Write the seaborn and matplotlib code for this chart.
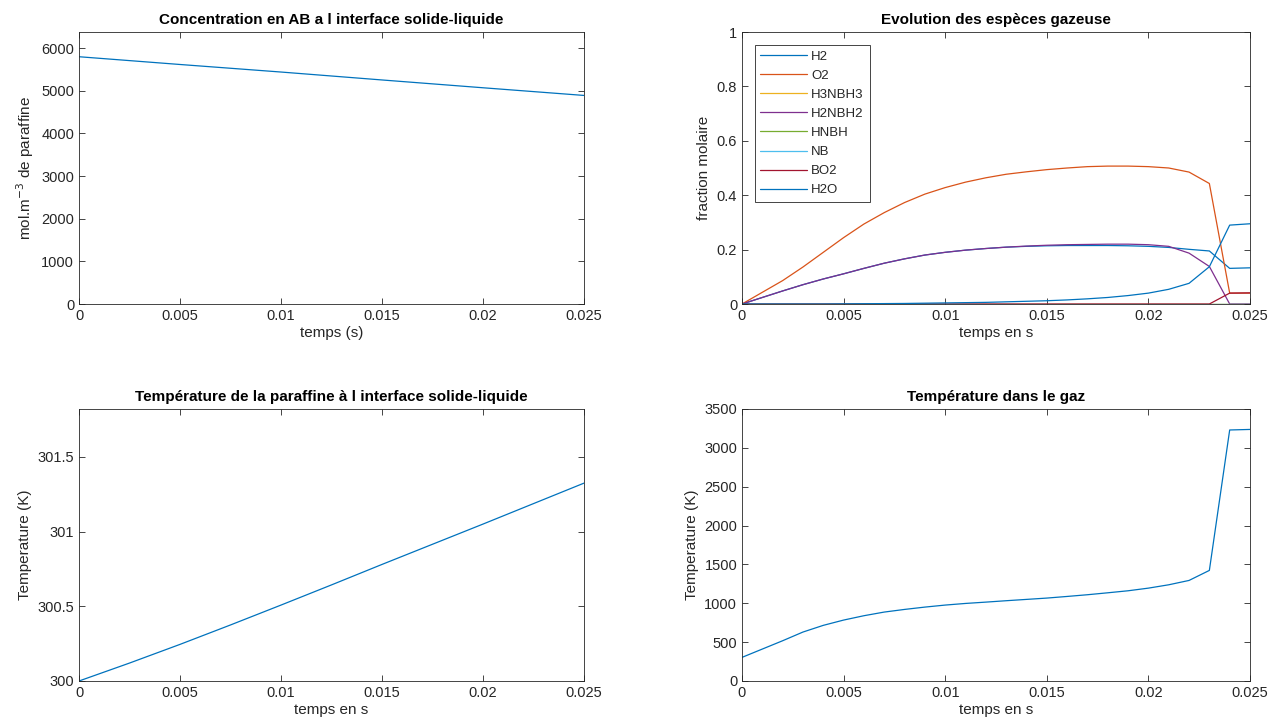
import numpy as np
import seaborn as sns
import matplotlib.pyplot as plt
from matplotlib.ticker import FuncFormatter

# temps (s)
t = [0.000, 0.001, 0.002, 0.003, 0.004, 0.005, 0.006, 0.007, 0.008, 0.009,
     0.010, 0.011, 0.012, 0.013, 0.014, 0.015, 0.016, 0.017, 0.018, 0.019,
     0.020, 0.021, 0.022, 0.023, 0.024, 0.025]

# concentration AB (interface)
t_conc = [0.0, 0.005, 0.01, 0.015, 0.02, 0.025]
conc_ab = [5800, 5618, 5441, 5255, 5072, 4892]

# fractions molaires gaz
h2 = [0.0, 0.024, 0.048, 0.071, 0.092, 0.111, 0.131, 0.150, 0.166, 0.180,
      0.190, 0.198, 0.204, 0.209, 0.212, 0.214, 0.215, 0.215, 0.215, 0.214,
      0.212, 0.208, 0.201, 0.195, 0.131, 0.133]
o2 = [0.0, 0.043, 0.086, 0.136, 0.190, 0.244, 0.294, 0.336, 0.373, 0.404,
      0.428, 0.448, 0.464, 0.477, 0.486, 0.494, 0.500, 0.505, 0.507, 0.507,
      0.505, 0.500, 0.485, 0.443, 0.040, 0.040]
h3nbh3 = [0, 0, 0, 0, 0, 0, 0, 0, 0, 0, 0, 0, 0,
          0, 0, 0, 0, 0, 0, 0, 0, 0, 0, 0, 0, 0]
h2nbh2 = [0.0, 0.024, 0.048, 0.071, 0.092, 0.111, 0.131, 0.150, 0.166, 0.180,
          0.190, 0.198, 0.204, 0.209, 0.213, 0.216, 0.218, 0.219, 0.220, 0.220,
          0.218, 0.212, 0.187, 0.138, 0.0, 0.0]
hnbh = [0, 0, 0, 0, 0, 0, 0, 0, 0, 0, 0, 0, 0,
        0, 0, 0, 0, 0, 0, 0, 0, 0, 0, 0, 0, 0]
nb = [0, 0, 0, 0, 0, 0, 0, 0, 0, 0, 0, 0, 0,
      0, 0, 0, 0, 0, 0, 0, 0, 0, 0, 0, 0, 0]
bo2 = [0, 0, 0, 0, 0, 0, 0, 0, 0, 0, 0, 0, 0,
       0, 0, 0, 0, 0, 0, 0, 0, 0, 0, 0, 0.040, 0.041]
h2o = [0.0, 0.0, 0.0, 0.0, 0.0, 0.0005, 0.001, 0.0015, 0.002, 0.003,
       0.004, 0.005, 0.006, 0.008, 0.010, 0.012, 0.015, 0.019, 0.024, 0.031,
       0.040, 0.054, 0.076, 0.137, 0.290, 0.295]
especes = ['H2', 'O2', 'H3NBH3', 'H2NBH2', 'HNBH', 'NB', 'BO2', 'H2O']

# temperature paraffine
t_par = [0.0, 0.0025, 0.005, 0.0075, 0.01, 0.0125, 0.015, 0.0175, 0.02, 0.0225, 0.025]
T_par = [300.0, 300.12, 300.245, 300.375, 300.508, 300.643, 300.78, 300.915,
         301.05, 301.187, 301.324]

# temperature gaz
T_gaz = [304, 411, 518, 630, 716, 784, 840, 887, 921, 951,
         977, 998, 1015, 1033, 1050, 1067, 1088, 1110, 1135, 1161,
         1195, 1238, 1294, 1423, 3230, 3237]

couleurs = ['#0072BD', '#D95319', '#EDB120', '#7E2F8E',
            '#77AC30', '#4DBEEE', '#A2142F', '#0072BD']

sns.set_style('ticks')
plt.rcParams['font.family'] = ['Liberation Sans', 'DejaVu Sans']
plt.rcParams['axes.edgecolor'] = '#262626'
plt.rcParams['axes.linewidth'] = 0.6
plt.rcParams['xtick.color'] = '#262626'
plt.rcParams['ytick.color'] = '#262626'
plt.rcParams['text.color'] = '#262626'
plt.rcParams['axes.labelcolor'] = '#262626'

fig = plt.figure(figsize=(12.71, 7.28), dpi=100)
W, H = 1271, 728


def make_ax(l, r, top, bot):
    return fig.add_axes([l / W, 1 - bot / H, (r - l) / W, (bot - top) / H])


ax1 = make_ax(79, 584, 32, 304)
ax2 = make_ax(742, 1250, 32, 304)
ax3 = make_ax(79, 584, 409, 681)
ax4 = make_ax(742, 1250, 409, 681)

lw = 0.9
fmt = FuncFormatter(lambda v, p: '%g' % round(v, 6))

# 1. concentration
sns.lineplot(x=t_conc, y=conc_ab, ax=ax1, color=couleurs[0], lw=lw)
ax1.set_ylim(0, 6380)
ax1.set_yticks([0, 1000, 2000, 3000, 4000, 5000, 6000])
ax1.set_xlabel('temps (s)', fontsize=11)
ax1.set_ylabel('mol.m$^{-3}$ de paraffine', fontsize=11)
ax1.set_title('Concentration en AB a l interface solide-liquide', fontsize=11, fontweight='bold', color='black')

# 2. especes gazeuses
for serie, nom, c in zip([h2, o2, h3nbh3, h2nbh2, hnbh, nb, bo2, h2o], especes, couleurs):
    sns.lineplot(x=t, y=serie, ax=ax2, color=c, lw=lw, label=nom)
ax2.set_ylim(0, 1)
ax2.set_yticks([0, 0.2, 0.4, 0.6, 0.8, 1])
ax2.set_xlabel('temps en s', fontsize=11)
ax2.set_ylabel('fraction molaire', fontsize=11)
ax2.set_title('Evolution des espèces gazeuse', fontsize=11, fontweight='bold', color='black')
leg = ax2.legend(loc='upper left', fontsize=9.5, frameon=True, fancybox=False,
                 edgecolor='#262626', framealpha=1, handlelength=3.5,
                 handletextpad=0.35, labelspacing=0.52, borderaxespad=0.95,
                 borderpad=0.45)
leg.get_frame().set_linewidth(0.6)

# 3. temperature paraffine
sns.lineplot(x=t_par, y=T_par, ax=ax3, color=couleurs[0], lw=lw)
ax3.set_ylim(300, 301.82)
ax3.set_yticks([300, 300.5, 301, 301.5])
ax3.set_xlabel('temps en s', fontsize=11)
ax3.set_ylabel('Temperature (K)', fontsize=11)
ax3.set_title('Température de la paraffine à l interface solide-liquide', fontsize=11, fontweight='bold', color='black')

# 4. temperature gaz
sns.lineplot(x=t, y=T_gaz, ax=ax4, color=couleurs[0], lw=lw)
ax4.set_ylim(0, 3500)
ax4.set_yticks([0, 500, 1000, 1500, 2000, 2500, 3000, 3500])
ax4.set_xlabel('temps en s', fontsize=11)
ax4.set_ylabel('Temperature (K)', fontsize=11)
ax4.set_title('Température dans le gaz', fontsize=11, fontweight='bold', color='black')

for ax in [ax1, ax2, ax3, ax4]:
    ax.set_xlim(0, 0.025)
    ax.set_xticks([0, 0.005, 0.01, 0.015, 0.02, 0.025])
    ax.xaxis.set_major_formatter(fmt)
    ax.yaxis.set_major_formatter(fmt)
    ax.tick_params(direction='in', top=True, right=True, labelsize=10.5,
                   length=4.5, width=0.6)
    for s in ax.spines.values():
        s.set_visible(True)
    ax.xaxis.labelpad = 2

plt.savefig('out.png', dpi=100)
